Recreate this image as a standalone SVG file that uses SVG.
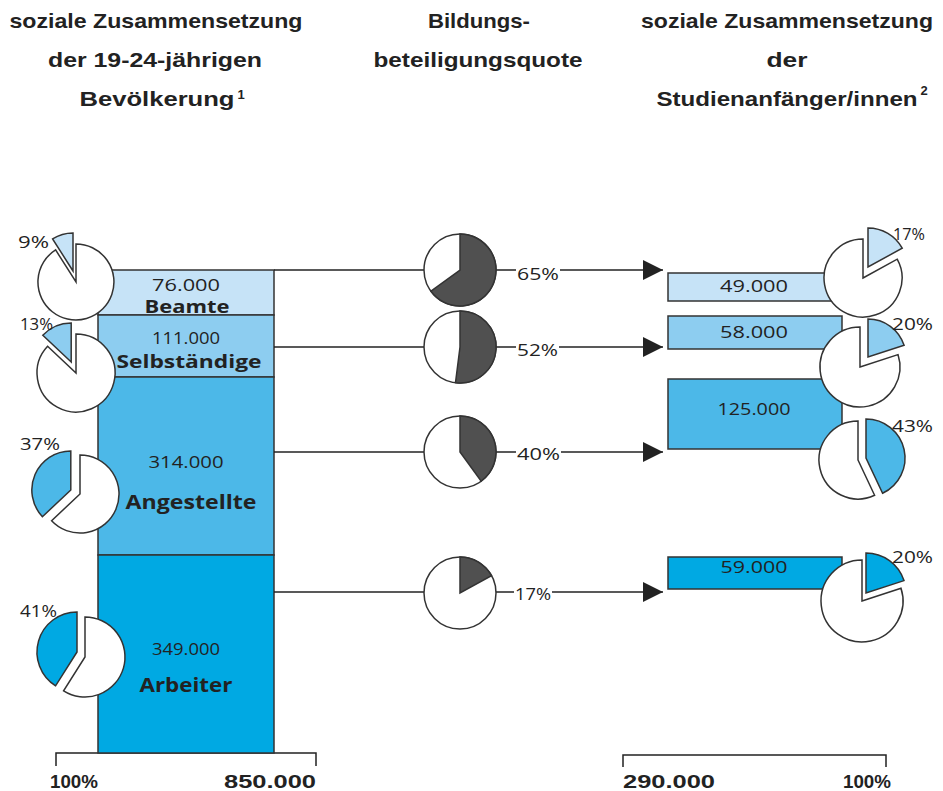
<svg xmlns="http://www.w3.org/2000/svg" width="943" height="791" viewBox="0 0 943 791">
<style>
.hd{font-family:"Liberation Sans Narrow","Liberation Sans",Arial,sans-serif;font-weight:bold;font-size:21px;fill:#222;}
.num{font-family:"Open Sans","Noto Sans","Liberation Sans",sans-serif;font-size:17px;fill:#222;}
.lbl{font-family:"Open Sans","Noto Sans","Liberation Sans",sans-serif;font-weight:bold;font-size:19px;fill:#222;}
.pct{font-family:"Open Sans","Noto Sans","Liberation Sans",sans-serif;font-size:17px;fill:#222;}
.ax{font-family:"Liberation Sans Narrow","Liberation Sans",Arial,sans-serif;font-weight:bold;font-size:19px;fill:#222;}
.seg{stroke:#333;stroke-width:1.5;}
.c1{fill:#c6e3f7;}
.c2{fill:#8dcdf0;}
.c3{fill:#4cb8e8;}
.c4{fill:#00a9e3;}
.w{fill:#fff;stroke:#333;stroke-width:1.5;}
.sl{stroke:#333;stroke-width:1.5;}
.dk{fill:#505050;stroke:#333;stroke-width:1.5;}
.ln{stroke:#222;stroke-width:1.5;fill:none;}
</style>
<defs>
<marker id="arr" markerWidth="20" markerHeight="20" refX="20" refY="10" orient="auto" markerUnits="userSpaceOnUse">
<path d="M0,0 L20,10 L0,20 Z" fill="#222"/>
</marker>
</defs>

<g id="headers">
<text class="hd" x="156" y="28" text-anchor="middle" textLength="293" lengthAdjust="spacingAndGlyphs">soziale Zusammensetzung</text>
<text class="hd" x="155" y="67" text-anchor="middle" textLength="214" lengthAdjust="spacingAndGlyphs">der 19-24-jährigen</text>
<text class="hd" x="157" y="106" text-anchor="middle" textLength="155" lengthAdjust="spacingAndGlyphs">Bevölkerung</text>
<text class="hd" x="241" y="99" text-anchor="middle" style="font-size:13px">1</text>
<text class="hd" x="479" y="28" text-anchor="middle" textLength="102" lengthAdjust="spacingAndGlyphs">Bildungs-</text>
<text class="hd" x="478" y="67" text-anchor="middle" textLength="209" lengthAdjust="spacingAndGlyphs">beteiligungsquote</text>
<text class="hd" x="787" y="28" text-anchor="middle" textLength="292" lengthAdjust="spacingAndGlyphs">soziale Zusammensetzung</text>
<text class="hd" x="787" y="67" text-anchor="middle" textLength="41" lengthAdjust="spacingAndGlyphs">der</text>
<text class="hd" x="787" y="106" text-anchor="middle" textLength="261" lengthAdjust="spacingAndGlyphs">Studienanfänger/innen</text>
<text class="hd" x="924" y="95" text-anchor="middle" style="font-size:13px">2</text>
</g>

<g id="axes">
<path class="ln" d="M56,766 L56,753 L316,753 L316,766"/>
<path class="ln" d="M623,767 L623,755 L886,755 L886,767"/>
<text class="ax" x="50" y="788" textLength="48" lengthAdjust="spacingAndGlyphs">100%</text>
<text class="ax" x="224" y="788" textLength="92" lengthAdjust="spacingAndGlyphs">850.000</text>
<text class="ax" x="623" y="788" textLength="92" lengthAdjust="spacingAndGlyphs">290.000</text>
<text class="ax" x="843" y="788" textLength="48" lengthAdjust="spacingAndGlyphs">100%</text>
</g>

<g id="bar-beamte">
<rect class="seg c1" x="98" y="270" width="176" height="45"/>
<text class="num" x="186" y="291" text-anchor="middle" textLength="68" lengthAdjust="spacingAndGlyphs">76.000</text>
<text class="lbl" x="187" y="313" text-anchor="middle" textLength="85" lengthAdjust="spacingAndGlyphs" style="font-size:18px">Beamte</text>
</g>
<g id="bar-selbstaendige">
<rect class="seg c2" x="98" y="315" width="176" height="62"/>
<text class="num" x="186" y="344" text-anchor="middle" textLength="68" lengthAdjust="spacingAndGlyphs">111.000</text>
<text class="lbl" x="189" y="368" text-anchor="middle" textLength="145" lengthAdjust="spacingAndGlyphs" style="font-size:18px">Selbständige</text>
</g>
<g id="bar-angestellte">
<rect class="seg c3" x="98" y="377" width="176" height="178"/>
<text class="num" x="186" y="468" text-anchor="middle" textLength="75" lengthAdjust="spacingAndGlyphs">314.000</text>
<text class="lbl" x="191" y="509" text-anchor="middle" textLength="131" lengthAdjust="spacingAndGlyphs">Angestellte</text>
</g>
<g id="bar-arbeiter">
<rect class="seg c4" x="98" y="555" width="176" height="198"/>
<text class="num" x="186" y="655" text-anchor="middle" textLength="68" lengthAdjust="spacingAndGlyphs">349.000</text>
<text class="lbl" x="186" y="692" text-anchor="middle" textLength="93" lengthAdjust="spacingAndGlyphs">Arbeiter</text>
</g>

<g id="connectors">
<line class="ln" x1="274" y1="270" x2="424" y2="270"/>
<line class="ln" x1="496" y1="270" x2="516" y2="270"/>
<line class="ln" x1="560" y1="270" x2="663" y2="270" marker-end="url(#arr)"/>
<line class="ln" x1="274" y1="347" x2="424" y2="347"/>
<line class="ln" x1="496" y1="347" x2="516" y2="347"/>
<line class="ln" x1="559" y1="347" x2="663" y2="347" marker-end="url(#arr)"/>
<line class="ln" x1="274" y1="452" x2="424" y2="452"/>
<line class="ln" x1="496" y1="452" x2="516" y2="452"/>
<line class="ln" x1="561" y1="452" x2="663" y2="452" marker-end="url(#arr)"/>
<line class="ln" x1="274" y1="592" x2="424" y2="592"/>
<line class="ln" x1="496" y1="592" x2="514" y2="592"/>
<line class="ln" x1="552" y1="592" x2="663" y2="592" marker-end="url(#arr)"/>
</g>

<g id="quote-65">
<circle class="w" cx="460" cy="270" r="36"/>
<path class="dk" d="M460,270 L460,234 A36,36 0 1,1 430.9,291.2 Z"/>
<text class="pct" x="517" y="280" textLength="42" lengthAdjust="spacingAndGlyphs">65%</text>
</g>
<g id="quote-52">
<circle class="w" cx="460" cy="347" r="36"/>
<path class="dk" d="M460,347 L460,311 A36,36 0 1,1 455.5,382.7 Z"/>
<text class="pct" x="517" y="356" textLength="41" lengthAdjust="spacingAndGlyphs">52%</text>
</g>
<g id="quote-40">
<circle class="w" cx="460" cy="452" r="36"/>
<path class="dk" d="M460,452 L460,416 A36,36 0 0,1 481.2,481.1 Z"/>
<text class="pct" x="517" y="460" textLength="43" lengthAdjust="spacingAndGlyphs">40%</text>
</g>
<g id="quote-17">
<circle class="w" cx="460" cy="593" r="36"/>
<path class="dk" d="M460,593 L460,557 A36,36 0 0,1 491.5,575.7 Z"/>
<text class="pct" x="515" y="600" textLength="36" lengthAdjust="spacingAndGlyphs">17%</text>
</g>

<g id="pop-pie-beamte">
<path class="w" d="M76,282 L76,244 A38,38 0 1,1 55.6,249.9 Z"/>
<path class="sl c1" d="M73,271 L52.6,238.9 A38,38 0 0,1 73,233 Z"/>
<text class="pct" x="18" y="248" textLength="31" lengthAdjust="spacingAndGlyphs">9%</text>
</g>
<g id="pop-pie-selbstaendige">
<path class="w" d="M76,373 L76,334 A39,39 0 1,1 47.6,346.3 Z"/>
<path class="sl c2" d="M71.2,362 L42.8,335.3 A39,39 0 0,1 71.2,323 Z"/>
<text class="pct" x="20" y="330" textLength="33" lengthAdjust="spacingAndGlyphs">13%</text>
</g>
<g id="pop-pie-angestellte">
<path class="w" d="M80,494 L80,455 A39,39 0 1,1 51.6,520.7 Z"/>
<path class="sl c3" d="M70.8,490 L42.4,516.7 A39,39 0 0,1 70.8,451 Z"/>
<text class="pct" x="20" y="450" textLength="40" lengthAdjust="spacingAndGlyphs">37%</text>
</g>
<g id="pop-pie-arbeiter">
<path class="w" d="M85,657 L85,617 A40,40 0 1,1 63.6,690.8 Z"/>
<path class="sl c4" d="M77,652 L55.6,685.8 A40,40 0 0,1 77,612 Z"/>
<text class="pct" x="20" y="617" textLength="37" lengthAdjust="spacingAndGlyphs">41%</text>
</g>

<g id="stud-beamte">
<rect class="seg c1" x="668" y="273" width="174" height="28"/>
<text class="num" x="754" y="292" text-anchor="middle" textLength="68" lengthAdjust="spacingAndGlyphs">49.000</text>
</g>
<g id="stud-selbstaendige">
<rect class="seg c2" x="668" y="316" width="174" height="33"/>
<text class="num" x="754" y="338" text-anchor="middle" textLength="68" lengthAdjust="spacingAndGlyphs">58.000</text>
</g>
<g id="stud-angestellte">
<rect class="seg c3" x="668" y="379" width="174" height="70"/>
<text class="num" x="754" y="415" text-anchor="middle" textLength="73" lengthAdjust="spacingAndGlyphs">125.000</text>
</g>
<g id="stud-arbeiter">
<rect class="seg c4" x="668" y="557" width="174" height="32"/>
<text class="num" x="754" y="573" text-anchor="middle" textLength="67" lengthAdjust="spacingAndGlyphs">59.000</text>
</g>

<g id="stud-pie-beamte">
<path class="w" d="M863,278 L897.2,259.2 A39,39 0 1,1 863,239 Z"/>
<path class="sl c1" d="M868,267 L868,228 A39,39 0 0,1 902.2,248.2 Z"/>
<text class="pct" x="893" y="240" textLength="32" lengthAdjust="spacingAndGlyphs">17%</text>
</g>
<g id="stud-pie-selbstaendige">
<path class="w" d="M860,367 L898,354.6 A40,40 0 1,1 860,327 Z"/>
<path class="sl c2" d="M868,357 L868,319 A38,38 0 0,1 904.1,345.3 Z"/>
<text class="pct" x="892" y="330" textLength="41" lengthAdjust="spacingAndGlyphs">20%</text>
</g>
<g id="stud-pie-angestellte">
<path class="w" d="M858,460 L874.6,495.3 A39,39 0 1,1 858,421 Z"/>
<path class="sl c3" d="M866,458 L866,419 A39,39 0 0,1 882.6,493.3 Z"/>
<text class="pct" x="892" y="432" textLength="41" lengthAdjust="spacingAndGlyphs">43%</text>
</g>
<g id="stud-pie-arbeiter">
<path class="w" d="M862,601 L901,588.3 A41,41 0 1,1 862,560 Z"/>
<path class="sl c4" d="M866,593 L866,553 A40,40 0 0,1 904,580.6 Z"/>
<text class="pct" x="892" y="563" textLength="41" lengthAdjust="spacingAndGlyphs">20%</text>
</g>
</svg>
